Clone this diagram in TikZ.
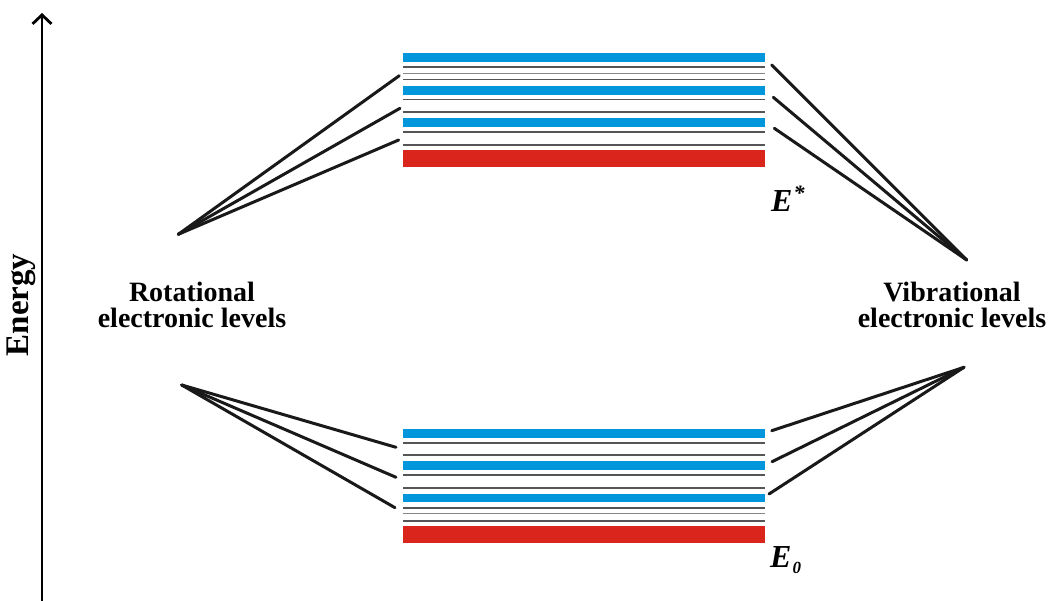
\documentclass[tikz,border=0pt]{standalone}
\usepackage{fontspec}
\setmainfont{Liberation Serif}
\usetikzlibrary{arrows.meta}
\definecolor{levelblue}{HTML}{0096DC}
\definecolor{levelred}{HTML}{DA251D}
\definecolor{levelgray}{HTML}{555555}
\definecolor{levellight}{HTML}{8A8683}
\tikzset{
  bluebar/.style={fill=levelblue},
  redbar/.style={fill=levelred},
  subline/.style={draw=levelgray, line width=1.8pt},
  sublight/.style={draw=levellight, line width=1.5pt},
  fanline/.style={draw=black!90, line width=3pt, line cap=round},
  label/.style={font=\fontsize{28}{26}\selectfont\bfseries, align=center, inner sep=0pt},
  statelabel/.style={font=\fontsize{32}{32}\selectfont\bfseries\itshape, inner sep=0pt, anchor=base west},
}
\begin{document}
\begin{tikzpicture}[x=1pt, y=-1pt]
\useasboundingbox (0,0) rectangle (1056,601);

% energy axis
\coordinate (axisbottom) at (42,601);
\coordinate (axistop) at (42,13);
\draw[line width=2.8pt, -{Straight Barb[length=9pt, width=19pt, line width=2.8pt]}] (axisbottom) -- (axistop);
\node[font=\fontsize{33}{33}\selectfont\bfseries, rotate=90, inner sep=0pt] (energy) at (21,305) {Energy};

% upper electronic state E*
\fill[bluebar] (403,53) rectangle (765,62);
\draw[subline] (403,66.7) -- (765,66.7);
\draw[sublight] (403,73.7) -- (765,73.7);
\draw[subline, line width=1.3pt] (403,79.3) -- (765,79.3);
\fill[bluebar] (403,86) rectangle (765,94.7);
\draw[subline, line width=1.2pt] (403,99.3) -- (765,99.3);
\draw[subline] (403,111.7) -- (765,111.7);
\fill[bluebar] (403,118) rectangle (765,126.7);
\draw[subline] (403,131.7) -- (765,131.7);
\draw[subline] (403,144.7) -- (765,144.7);
\fill[redbar] (403,150) rectangle (765,166.7);

% ground electronic state E0
\fill[bluebar] (403,429) rectangle (765,437.7);
\draw[subline] (403,442.7) -- (765,442.7);
\draw[subline] (403,455.3) -- (765,455.3);
\fill[bluebar] (403,461.3) rectangle (765,470);
\draw[subline] (403,474.7) -- (765,474.7);
\draw[subline] (403,487.7) -- (765,487.7);
\fill[bluebar] (403,493.7) rectangle (765,502);
\draw[subline] (403,507.7) -- (765,507.7);
\draw[sublight] (403,513.3) -- (765,513.3);
\draw[subline] (403,520.7) -- (765,520.7);
\fill[redbar] (403,526) rectangle (765,542.7);

% state labels
\node[statelabel] (estar) at (771,212) {E\kern1pt\raisebox{0.35em}{\fontsize{22}{22}\selectfont *}};
\node[statelabel] (ezero) at (770,567) {E\kern1pt\raisebox{-0.2em}{\fontsize{17}{17}\selectfont 0}};

% side labels
\node[label] (rot) at (192,305) {Rotational\\electronic levels};
\node[label] (vib) at (952,305) {Vibrational\\electronic levels};

% fan apexes
\coordinate (rotup) at (178.3,234.3);
\coordinate (rotdown) at (181.7,385);
\coordinate (vibup) at (966.7,260);
\coordinate (vibdown) at (964,367.3);

% fan ends next to the level stacks
\coordinate (ul1) at (399.3,75.7);
\coordinate (ul2) at (400,108.3);
\coordinate (ul3) at (398.7,140);
\coordinate (ur1) at (771.7,65);
\coordinate (ur2) at (773.3,97.3);
\coordinate (ur3) at (774.3,128.3);
\coordinate (ll1) at (396,447.3);
\coordinate (ll2) at (396,477.3);
\coordinate (ll3) at (395,507.7);
\coordinate (lr1) at (771.7,430.7);
\coordinate (lr2) at (772,461.7);
\coordinate (lr3) at (769,494);

\foreach \e in {ul1,ul2,ul3} \draw[fanline] (rotup) -- (\e);
\foreach \e in {ll1,ll2,ll3} \draw[fanline] (rotdown) -- (\e);
\foreach \e in {ur1,ur2,ur3} \draw[fanline] (vibup) -- (\e);
\foreach \e in {lr1,lr2,lr3} \draw[fanline] (vibdown) -- (\e);
\end{tikzpicture}
\end{document}
